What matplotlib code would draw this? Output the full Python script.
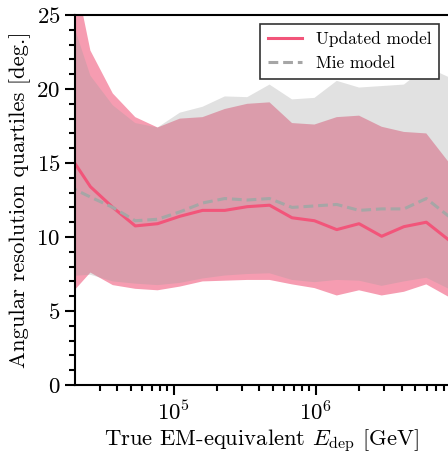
import matplotlib
matplotlib.use('Agg')
import matplotlib.pyplot as plt
import matplotlib.ticker as ticker
import numpy as np

plt.rcParams['font.family'] = 'serif'
plt.rcParams['font.serif'] = ['cmr10']
plt.rcParams['mathtext.fontset'] = 'cm'
plt.rcParams['axes.formatter.use_mathtext'] = True

# bin centres [GeV]
energy = [1.79e4, 2.58e4, 3.71e4, 5.34e4, 7.67e4, 1.10e5, 1.59e5, 2.28e5, 3.28e5,
          4.71e5, 6.78e5, 9.75e5, 1.40e6, 2.01e6, 2.90e6, 4.16e6, 5.98e6, 8.61e6]

# updated model: median and quartiles [deg.]
upd_median = [15.7, 13.4, 12.0, 10.75, 10.9, 11.4, 11.8, 11.8, 12.05,
              12.15, 11.3, 11.1, 10.5, 10.9, 10.05, 10.7, 11.0, 9.8]
upd_low = [5.9, 7.6, 6.75, 6.5, 6.4, 6.65, 7.0, 7.05, 7.1,
           7.1, 6.8, 6.55, 6.05, 6.4, 6.05, 6.3, 6.8, 5.95]
upd_high = [30.0, 22.6, 19.7, 18.1, 17.4, 18.0, 18.1, 18.65, 19.0,
            19.1, 17.7, 17.6, 18.1, 18.2, 17.45, 17.1, 17.0, 15.05]

# Mie model: median and quartiles [deg.]
mie_median = [13.45, 12.7, 12.0, 11.1, 11.2, 11.7, 12.3, 12.6, 12.5,
              12.6, 12.0, 12.1, 12.2, 11.8, 11.9, 11.9, 12.6, 11.4]
mie_low = [7.35, 7.45, 7.0, 6.85, 6.75, 6.9, 7.2, 7.4, 7.5,
           7.55, 7.1, 6.95, 7.1, 7.05, 6.7, 7.0, 7.25, 6.5]
mie_high = [25.5, 20.9, 18.9, 17.7, 17.4, 18.4, 18.8, 19.5, 19.45,
            20.3, 19.3, 19.4, 20.55, 20.1, 20.2, 20.3, 21.5, 20.8]

red = '#f2557a'
fig = plt.figure(figsize=(4.48, 4.55), dpi=100)
ax = fig.add_axes([0.1674, 0.1538, 0.8326, 0.8132])

ax.fill_between(energy, upd_low, upd_high, facecolor='#f69cb1', linewidth=0)
ax.fill_between(energy, mie_low, mie_high, facecolor='#9f9f9f', alpha=0.31, linewidth=0)
ax.plot(energy, upd_median, color=red, lw=2.2, label='Updated model')
ax.plot(energy, mie_median, color='#a6a6a6', lw=2.2, ls=(0, (3.2, 1.6)), label='Mie model')

ax.set_xscale('log')
ax.set_xlim(2.01e4, 8.5e6)
ax.set_ylim(0, 25)
ax.yaxis.set_major_locator(ticker.MultipleLocator(5))
ax.yaxis.set_minor_locator(ticker.MultipleLocator(1))
ax.tick_params(which='both', direction='out', width=1.5, labelsize=16.5)
ax.tick_params(which='major', length=7)
ax.tick_params(which='minor', length=4)
for s in ['left', 'bottom', 'top']:
    ax.spines[s].set_linewidth(1.5)
ax.spines['right'].set_visible(False)

ax.set_xlabel(r'True EM-equivalent $E_{\rm dep}$ [GeV]', fontsize=16.3, labelpad=3)
ax.set_ylabel('Angular resolution quartiles [deg.]', fontsize=16.3, labelpad=4)

leg = ax.legend(loc='upper right', fontsize=12.4, fancybox=False, framealpha=1,
                edgecolor='#333333', handlelength=2.0, borderaxespad=0.5,
                borderpad=0.45, labelspacing=0.5)
leg.get_frame().set_linewidth(1.2)

fig.savefig('out.png', dpi=100)
